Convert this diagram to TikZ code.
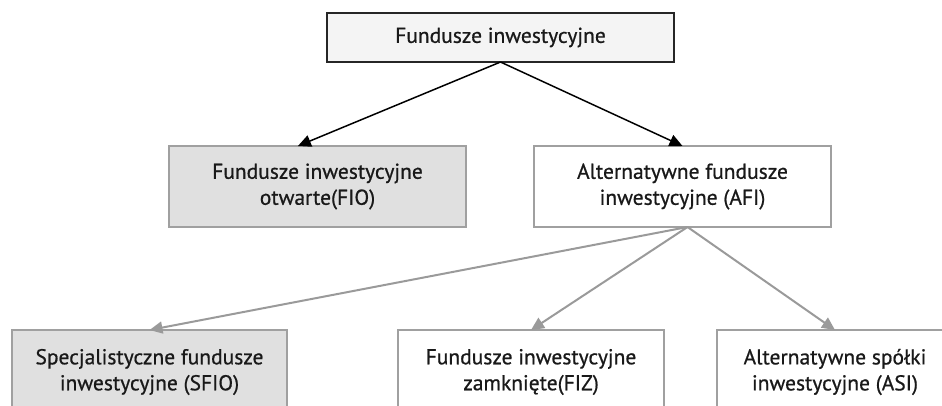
\documentclass[tikz,border=0pt]{standalone}
\usepackage{fontspec}
\setmainfont{PT Sans}[FakeBold=0.7]
\usetikzlibrary{arrows.meta,calc}
\definecolor{topfill}{HTML}{F4F4F4}
\definecolor{grayfill}{HTML}{E0E0E0}
\definecolor{boxline}{HTML}{A0A0A0}
\definecolor{arrgray}{HTML}{9A9A9A}
\tikzset{
  every node/.style={inner sep=0pt, outer sep=0pt},
  boxtxt/.style={font=\fontsize{21.5}{26}\selectfont, align=center, text=black!90},
  topbox/.style={boxtxt, draw=black!85, line width=1.3pt, fill=topfill},
  midbox/.style={boxtxt, draw=boxline, line width=2.6pt},
  blackarr/.style={draw=black, line width=1.5pt, -{Triangle[length=13pt,width=12pt]}},
  grayarr/.style={draw=arrgray, line width=2pt, -{Triangle[length=13pt,width=12pt]}}
}
\begin{document}
\begin{tikzpicture}[x=1pt,y=-1pt]
\useasboundingbox (0,0) rectangle (942,405);
\clip (0,0) rectangle (942,405);
\node[topbox, minimum width=347pt, minimum height=49pt] (top) at (500.5,37.5) {Fundusze inwestycyjne};
\node[midbox, fill=grayfill, minimum width=297pt, minimum height=81pt] (fio) at (317.5,186.5) {Fundusze inwestycyjne\\otwarte(FIO)};
\node[midbox, fill=white, minimum width=297pt, minimum height=81pt] (afi) at (682.5,186.5) {Alternatywne fundusze\\inwestycyjne (AFI)};
\node[midbox, fill=grayfill, minimum width=275pt, minimum height=84pt] (sfio) at (149.5,372) {Specjalistyczne fundusze\\inwestycyjne (SFIO)};
\node[midbox, fill=white, minimum width=266pt, minimum height=84pt] (fiz) at (531,372) {Fundusze inwestycyjne\\zamknięte(FIZ)};
\node[midbox, fill=white, minimum width=236pt, minimum height=84pt] (asi) at (835,372) {Alternatywne spółki\\inwestycyjne (ASI)};
\draw[blackarr] (top.south) -- ($(fio.north west)!0.434!(fio.north east)$);
\draw[blackarr] (top.south) -- (afi.north);
\coordinate (afiout) at ($(afi.south)+(5,0)$);
\draw[grayarr] (afiout) -- (sfio.north);
\draw[grayarr] (afiout) -- (fiz.north);
\draw[grayarr] (afiout) -- (asi.north);
\end{tikzpicture}
\end{document}
